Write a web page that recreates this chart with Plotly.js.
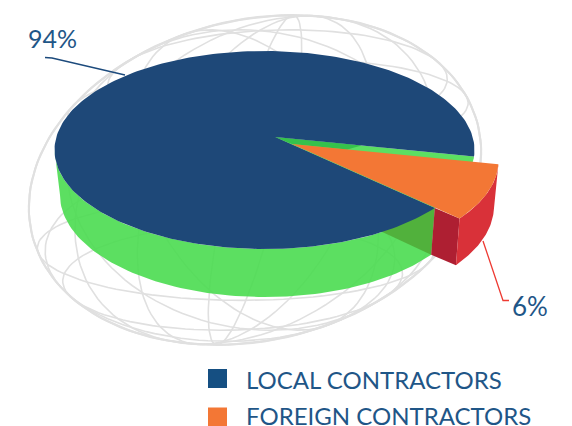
<!DOCTYPE html>
<html>
<head>
<meta charset="utf-8">
<script src="https://cdn.plot.ly/plotly-3.0.1.min.js"></script>
<style>html,body{margin:0;padding:0;background:#fff}</style>
</head>
<body>
<div id="chart" style="width:572px;height:426px"></div>
<script>
// Contractor split
const categories = ['LOCAL CONTRACTORS', 'FOREIGN CONTRACTORS'];
const shares = [94, 6];

const BLUE = '#1e4878', ORANGE = '#f37735', LEGEND_BLUE = '#154f82', TEXT = '#1f5687';
const GREEN = 'rgba(74,219,80,0.9)', GREEN_CUT = '#51b13c', GREEN_DARK = '#35c24c';
const RED = '#d93139', RED_DARK = '#ae1f32', WIRE = '#e0e0e0';

// Disc geometry in page pixels
const top_ = {cx: 264.5, cy: 150, rx: 210, ry: 99};
const bottom = {cx: 265, cy: 195, rx: 205, ry: 102};
const apex = [275, 137], apexDrop = 45;
const explode = [24, 11], tipShift = [17, 7];
const startDeg = 5.6, foreshorten = 0.85;

const shifted = (e, d) => ({cx: e.cx + d[0], cy: e.cy + d[1], rx: e.rx, ry: e.ry});
const at = (e, t) => [e.cx + e.rx * Math.cos(t), e.cy + e.ry * Math.sin(t)];
const arc = (e, t0, t1, n = 90) => Array.from({length: n + 1}, (_, i) => at(e, t0 + (t1 - t0) * i / n));

// Parameter where a ray from an inner point leaves the ellipse
function rayParam(e, o, deg) {
  const r = deg * Math.PI / 180;
  const ox = (o[0] - e.cx) / e.rx, oy = (o[1] - e.cy) / e.ry;
  const dx = Math.cos(r) / e.rx, dy = Math.sin(r) / e.ry;
  const a = dx * dx + dy * dy, b = 2 * (ox * dx + oy * dy), c = ox * ox + oy * oy - 1;
  const s = (-b + Math.sqrt(b * b - 4 * a * c)) / (2 * a);
  return Math.atan2(oy + s * dy, ox + s * dx);
}
const lerp = (p, q, f) => [p[0] + (q[0] - p[0]) * f, p[1] + (q[1] - p[1]) * f];

// The foreign slice sets the angular span of the cut-out
const total = shares[0] + shares[1];
const endDeg = startDeg + shares[1] / total * 360 * foreshorten;

const t0 = rayParam(top_, apex, startDeg), t1 = rayParam(top_, apex, endDeg);
const cornerUp = at(top_, t0), cornerLow = at(top_, t1), cornerLowBase = at(bottom, t1);

const tip = [apex[0] + tipShift[0], apex[1] + tipShift[1]];
const topOut = shifted(top_, explode), baseOut = shifted(bottom, explode);
const s0 = rayParam(topOut, tip, startDeg), s1 = rayParam(topOut, tip, endDeg);
const outUp = at(topOut, s0), outLow = at(topOut, s1);

function poly(pts, color, name) {
  return {type: 'scatter', mode: 'lines', name, x: pts.map(p => p[0]), y: pts.map(p => p[1]),
    fill: 'toself', fillcolor: color, line: {width: 0, color}, hoverinfo: 'skip', showlegend: false};
}
function stroke(pts, color, width, name) {
  return {type: 'scatter', mode: 'lines', name, x: pts.map(p => p[0]), y: pts.map(p => p[1]),
    line: {color, width, shape: 'linear'}, hoverinfo: 'skip', showlegend: false};
}

// Decorative wire globe behind the pie: unit sphere sheared onto the page
const globe = {cx: 255, cy: 180, xx: 223, xy: -38, yx: 0, yy: 165};
function ring(theta, phi, offset) {
  const tr = theta * Math.PI / 180, pr = phi * Math.PI / 180;
  const n = [Math.sin(tr) * Math.cos(pr), Math.sin(tr) * Math.sin(pr), Math.cos(tr)];
  const u = [Math.cos(tr) * Math.cos(pr), Math.cos(tr) * Math.sin(pr), -Math.sin(tr)];
  const v = [-Math.sin(pr), Math.cos(pr), 0];
  const k = Math.sqrt(1 - offset * offset), pts = [];
  for (let i = 0; i <= 120; i++) {
    const a = i / 120 * 2 * Math.PI, c = k * Math.cos(a), s = k * Math.sin(a);
    const X = offset * n[0] + c * u[0] + s * v[0], Y = offset * n[1] + c * u[1] + s * v[1];
    pts.push([globe.cx + globe.xx * X + globe.xy * Y, globe.cy + globe.yx * X + globe.yy * Y]);
  }
  return pts;
}
const ringSpecs = [
  [0, 0, 0], [4, 70, 0],
  [83, 0, 0], [62, 5, 0], [40, 10, 0], [62, -28, 0], [40, -40, 0],
  [65, 90, 0.65], [65, 90, -0.65], [70, 92, 0.45], [70, 88, -0.45], [50, 100, 0.6]
];
const wires = ringSpecs.map((r, i) => stroke(ring(r[0], r[1], r[2]), WIRE, i < 2 ? 2 : 1.6, 'wire' + i));

const marks = [
  ...wires,
  poly([...arc(bottom, t1, Math.PI), ...arc(top_, Math.PI, t1)], GREEN, 'wall'),
  poly([apex, cornerLow, cornerLowBase, [apex[0], apex[1] + apexDrop]], GREEN_CUT, 'cut wall'),
  poly([apex, ...arc(top_, t0, t1, 30)], 'rgb(92,223,98)', 'cut floor'),
  poly([apex, lerp(apex, cornerUp, 0.435), lerp(tip, outUp, 0.267), tip], GREEN_DARK, 'cut shade'),
  poly([apex, ...arc(top_, t1, t0 + 2 * Math.PI, 240)], BLUE, categories[0]),
  poly([cornerLow, outLow, at(baseOut, s1), cornerLowBase], RED_DARK, 'slice side'),
  poly([...arc(topOut, s0, s1, 40), ...arc(baseOut, s1, s0, 40)], RED, 'slice rim'),
  poly([tip, ...arc(topOut, s0, s1, 40)], ORANGE, categories[1]),
  stroke([[45, 57.5], [52, 58], [125, 75]], '#1c4a7c', 1.3, 'leader local'),
  stroke([[483, 241], [503, 300.5], [509, 300.5]], '#ee3a32', 1.3, 'leader foreign'),
  {type: 'scatter', mode: 'markers', name: 'legend', x: [217.5, 217.5], y: [378.5, 417],
   marker: {symbol: 'square', size: 19, color: [LEGEND_BLUE, ORANGE], line: {width: 0}},
   hoverinfo: 'skip', showlegend: false}
];

const label = (x, y, text, size, anchor) => ({x, y, xref: 'x', yref: 'y', text, showarrow: false,
  xanchor: anchor, yanchor: 'middle', font: {family: 'Lato, sans-serif', size, color: TEXT}});

const layout = {
  width: 572, height: 426, margin: {l: 0, r: 0, t: 0, b: 0},
  paper_bgcolor: '#fff', plot_bgcolor: '#fff', showlegend: false,
  xaxis: {range: [0, 572], visible: false, fixedrange: true},
  yaxis: {range: [426, 0], visible: false, fixedrange: true},
  annotations: [
    label(52.5, 38, shares[0] + '%', 25, 'center'),
    label(529.5, 306, shares[1] + '%', 26, 'center'),
    label(244, 379, categories[0], 24, 'left'),
    label(244, 415.5, categories[1], 24, 'left')
  ]
};
Plotly.newPlot('chart', marks, layout, {displayModeBar: false, staticPlot: true});
</script>
</body>
</html>
